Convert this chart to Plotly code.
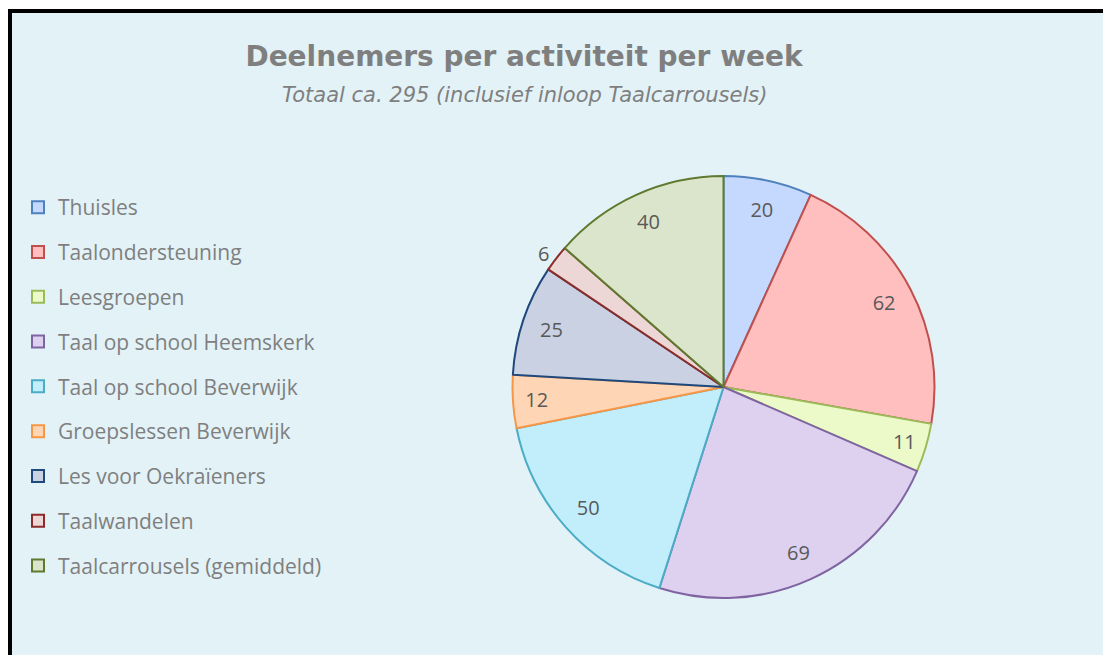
import plotly.graph_objects as go

# data
activiteiten = [
    'Thuisles', 'Taalondersteuning', 'Leesgroepen', 'Taal op school Heemskerk',
    'Taal op school Beverwijk', 'Groepslessen Beverwijk', 'Les voor Oekraïeners',
    'Taalwandelen', 'Taalcarrousels (gemiddeld)'
]
deelnemers = [20, 62, 11, 69, 50, 12, 25, 6, 40]

fill_colors = ['#c5d8fd', '#ffbfbf', '#ebfac8', '#ddd1ef', '#c2eefc',
               '#ffd6b5', '#c9d1e2', '#ecd6d6', '#dbe5cb']
line_colors = ['#4f81bd', '#c0504d', '#9bbb59', '#8064a2', '#4bacc6',
               '#f79646', '#1f497d', '#8b2c2a', '#5f7a2e']

grey = '#7f7f7f'
font = 'Open Sans'
pie_domain = dict(x=[512 / 1103, 935 / 1103], y=[57 / 655, 479 / 655])

fig = go.Figure()

# the slices
fig.add_trace(go.Pie(
    labels=activiteiten,
    values=deelnemers,
    sort=False,
    direction='clockwise',
    rotation=0,
    textinfo='none',
    marker=dict(colors=fill_colors, line=dict(color=line_colors, width=2)),
    domain=pie_domain,
    showlegend=False,
    hoverinfo='label+value',
))

# same pie as a transparent ring, so the value labels sit near the rim like in Excel
fig.add_trace(go.Pie(
    labels=activiteiten,
    values=deelnemers,
    sort=False,
    direction='clockwise',
    rotation=0,
    hole=0.72,
    text=[str(v) for v in deelnemers],
    textinfo='text',
    textposition=['outside' if v < 10 else 'inside' for v in deelnemers],
    insidetextorientation='horizontal',
    textfont=dict(family=font, size=20, color='#595959'),
    marker=dict(colors=['rgba(0,0,0,0)'] * len(deelnemers), line=dict(width=0)),
    domain=pie_domain,
    showlegend=False,
    hoverinfo='skip',
))

# legend entries, one per activity (square markers as in the original)
for i, naam in enumerate(activiteiten):
    fig.add_trace(go.Scatter(
        x=[None], y=[None], mode='markers', name=naam,
        legendgroup='g%d' % i,
        marker=dict(symbol='square', size=12, color=fill_colors[i],
                    line=dict(color=line_colors[i], width=2)),
    ))

fig.update_layout(
    width=1103, height=655,
    margin=dict(l=0, r=0, t=0, b=0),
    paper_bgcolor='white',
    plot_bgcolor='rgba(0,0,0,0)',
    xaxis=dict(visible=False),
    yaxis=dict(visible=False),
    uniformtext=dict(minsize=20, mode='show'),
    title=dict(
        text='Deelnemers per activiteit per week',
        x=524 / 1103, xanchor='center', y=1 - 56 / 655, yanchor='middle',
        font=dict(family='DejaVu Sans', size=28, color=grey, weight='bold'),
    ),
    legend=dict(
        x=18 / 1103, xanchor='left', y=1 - 187 / 655, yanchor='top',
        bgcolor='rgba(0,0,0,0)',
        font=dict(family=font, size=21, color=grey),
        tracegroupgap=14.5,
        itemclick=False,
    ),
    shapes=[dict(
        type='rect', xref='paper', yref='paper', layer='below',
        x0=10 / 1103, x1=1.05, y0=-0.05, y1=1 - 11 / 655,
        line=dict(color='black', width=4), fillcolor='#e2f2f7',
    )],
    annotations=[dict(
        text='<i>Totaal ca. 295 (inclusief inloop Taalcarrousels)</i>',
        xref='paper', yref='paper', x=524 / 1103, y=1 - 95 / 655,
        xanchor='center', yanchor='middle', showarrow=False,
        font=dict(family='DejaVu Sans', size=21, color=grey),
    )],
)

fig.write_html('out.html', config={'displayModeBar': False},
               post_script="document.body.style.margin='0';")
